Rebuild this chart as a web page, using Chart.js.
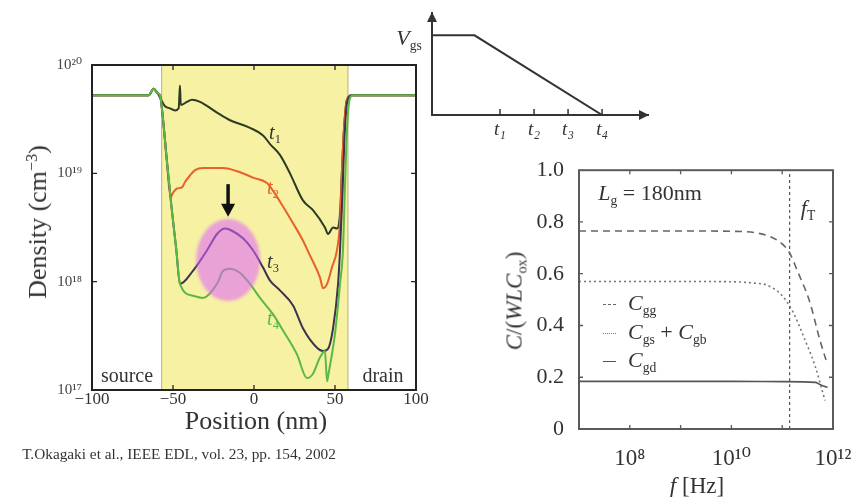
<!DOCTYPE html>
<html>
<head>
<meta charset="utf-8">
<script src="https://cdn.jsdelivr.net/npm/chart.js@4.4.1/dist/chart.umd.min.js"></script>
<style>
  body { margin: 0; width: 866px; height: 497px; background: #fff; position: relative; overflow: hidden;
         font-family: 'Liberation Serif', 'DejaVu Serif', serif; color: #333; }
  .panel { position: absolute; }
  .lbl { position: absolute; white-space: nowrap; line-height: 1; transform: translate(-50%, -50%); }
  .left { position: absolute; white-space: nowrap; line-height: 1; transform: translateY(-50%); }
  .rot { transform: translate(-50%, -50%) rotate(-90deg); }
  sub { font-size: 0.62em; vertical-align: -0.35em; line-height: 0; }
  sup { font-size: 0.62em; vertical-align: 0.55em; line-height: 0; }
  .smp { display: inline-block; width: 13px; margin-right: 12px; vertical-align: middle; border-top: 1.6px solid #555; }
</style>
</head>
<body>
<div class="panel" style="left:0;top:0"><canvas id="densChart" width="440" height="430"></canvas></div>
<div class="panel" style="left:380px;top:0"><canvas id="rampChart" width="290" height="145"></canvas></div>
<div class="panel" style="left:470px;top:150px"><canvas id="capChart" width="396" height="347"></canvas></div>

<!-- density panel text -->
<div class="lbl rot" style="left:38px;top:222px;font-size:26px">Density (cm<sup>−3</sup>)</div>
<div class="lbl" style="left:256px;top:421px;font-size:26px">Position (nm)</div>
<div class="lbl" style="left:179px;top:454px;font-size:15.3px">T.Okagaki et al., IEEE EDL, vol. 23, pp. 154, 2002</div>
<div class="lbl" style="left:127px;top:375px;font-size:20px">source</div>
<div class="lbl" style="left:383px;top:375px;font-size:20px">drain</div>
<div class="lbl" style="left:275px;top:132px;font-size:20px"><i>t</i><sub>1</sub></div>
<div class="lbl" style="left:273px;top:187px;font-size:20px;color:#e8602a"><i>t</i><sub>2</sub></div>
<div class="lbl" style="left:273px;top:261px;font-size:20px"><i>t</i><sub>3</sub></div>
<div class="lbl" style="left:273px;top:318px;font-size:20px;color:#5bb846"><i>t</i><sub>4</sub></div>

<!-- gate ramp text -->
<div class="lbl" style="left:409px;top:38px;font-size:22px"><i>V</i><sub>gs</sub></div>

<!-- capacitance panel text -->
<div class="lbl" style="left:650px;top:193px;font-size:22px"><i>L</i><sub>g</sub> = 180nm</div>
<div class="lbl" style="left:808px;top:208px;font-size:22px"><i>f</i><sub>T</sub></div>
<div class="lbl rot" style="left:514px;top:301px;font-size:23px"><i>C</i>/(<i>WLC</i><sub>ox</sub>)</div>
<div class="lbl" style="left:697px;top:485px;font-size:23px"><i>f</i> [Hz]</div>
<div class="left" style="left:603px;top:303px;font-size:22px"><span class="smp" style="border-top-style:dashed;border-color:#666"></span><i>C</i><sub>gg</sub></div>
<div class="left" style="left:603px;top:332px;font-size:22px"><span class="smp" style="border-top-style:dotted;border-color:#777"></span><i>C</i><sub>gs</sub> + <i>C</i><sub>gb</sub></div>
<div class="left" style="left:603px;top:360px;font-size:22px"><span class="smp"></span><i>C</i><sub>gd</sub></div>

<script>
var SERIF = "'Liberation Serif', 'DejaVu Serif', serif";

// carrier density along the channel, log10(cm^-3) vs position (nm)
var t1Pos = [-100, -65, -62, -59.5, -58, -55, -51.9, -48.8, -46.5, -45.7, -45.2, -41.4, -38.3, -33.3, -22.8, -14.8, -2.5, 5.6, 9.9, 16, 22.2, 30.2, 36.4, 43.8, 45.7, 48.8, 51.2, 53.1, 54.3, 55.5, 57.4, 60.5, 100];
var t1Log = [19.72, 19.72, 19.78, 19.74, 19.7, 19.62, 19.6, 19.58, 19.6, 19.81, 19.63, 19.66, 19.68, 19.66, 19.56, 19.49, 19.42, 19.35, 19.27, 19.17, 19.0, 18.75, 18.66, 18.5, 18.44, 18.5, 18.49, 18.63, 19.03, 19.4, 19.68, 19.72, 19.72];

var t2Pos = [-100, -65, -62, -59.5, -58, -56.5, -54, -51.5, -50, -47.5, -44.4, -42.6, -39.5, -36.4, -31.5, -19.1, -8.6, -0.6, 8, 11.7, 16, 24.1, 30.2, 34.6, 40.7, 42.6, 45.1, 48.1, 51.2, 53.1, 54.3, 55.5, 57.4, 60.5, 100];
var t2Log = [19.72, 19.72, 19.78, 19.74, 19.72, 19.55, 19.15, 18.78, 18.82, 18.86, 18.87, 18.92, 18.98, 19.03, 19.05, 19.05, 19.01, 18.96, 18.91, 18.84, 18.74, 18.54, 18.38, 18.24, 18.04, 17.94, 17.98, 18.13, 18.29, 18.55, 19.03, 19.4, 19.68, 19.72, 19.72];

var t3Pos = [-100, -65, -62, -59.5, -58, -56.5, -54, -51, -48, -45.7, -37.7, -29, -22.8, -17.9, -13.6, -6.8, -0.6, 5.6, 9.9, 16, 24.1, 30.2, 38.9, 42.6, 45.7, 48.8, 51.9, 53.1, 54.6, 55.8, 57.4, 60.5, 100];
var t3Log = [19.72, 19.72, 19.78, 19.74, 19.72, 19.55, 19.15, 18.7, 18.3, 17.98, 18.1, 18.29, 18.44, 18.49, 18.47, 18.4, 18.29, 18.13, 18.01, 17.92, 17.78, 17.57, 17.39, 17.36, 17.38, 17.57, 17.98, 18.29, 18.8, 19.3, 19.65, 19.72, 19.72];

var t4Pos = [-100, -65, -62, -59.5, -58, -56.5, -54, -51, -48, -45.7, -37.7, -31.5, -22.8, -19.1, -14.8, -8.6, -2.5, 3.7, 11.7, 17.9, 26.5, 32.7, 36.4, 40.7, 43.8, 45.1, 46, 50, 53.1, 54.9, 56.2, 57.4, 59, 61, 100];
var t4Log = [19.72, 19.72, 19.78, 19.74, 19.72, 19.55, 19.15, 18.7, 18.3, 17.98, 17.87, 17.85, 17.98, 18.1, 18.12, 18.08, 17.98, 17.85, 17.7, 17.55, 17.33, 17.11, 17.15, 17.3, 17.36, 17.08, 17.15, 17.52, 17.98, 18.29, 18.9, 19.4, 19.68, 19.72, 19.72];

var channelEdges = [-57, 58];
var densTicks = [1e17, 1e18, 1e19, 1e20];
var densMarks = [1e18, 1e19];
var posMarks = [-50, 0, 50];

// hump highlighted under the arrow
var humpPos = -16;
var humpLog = 18.2;
var arrowLog = [18.9, 18.6];

// gate voltage ramp
var rampT = [-1, 0.25, 4];
var rampV = [1, 1, 0];
var rampTicks = [1, 2, 3, 4];

// normalized capacitances vs frequency
var freqGG = [1e7, 1e9, 1e10, 3e10, 6e10, 1e11, 1.4e11, 2e11, 3.5e11, 5.5e11, 7.6e11];
var capGG = [0.765, 0.765, 0.764, 0.758, 0.742, 0.715, 0.68, 0.61, 0.49, 0.345, 0.255];
var freqGS = [1e7, 1e9, 1e10, 3e10, 5e10, 1e11, 1.6e11, 2.8e11, 4.5e11, 6.3e11, 7e11];
var capGS = [0.57, 0.57, 0.569, 0.563, 0.556, 0.515, 0.455, 0.345, 0.24, 0.14, 0.11];
var freqGD = [1e7, 1e10, 1e11, 4.5e11, 5.5e11, 7.8e11];
var capGD = [0.184, 0.184, 0.183, 0.18, 0.172, 0.16];
var fT = 1.4e11;
var freqLabels = [1e8, 1e10, 1e12];
var freqMarks = [1e8, 1e9, 1e10, 1e11];
var capMarks = [0.2, 0.4, 0.6, 0.8];

var SUP = { '0': '⁰', '1': '¹', '2': '²', '3': '³', '4': '⁴', '5': '⁵', '6': '⁶', '7': '⁷', '8': '⁸', '9': '⁹' };
function pow10Label(v) {
  var e = String(Math.round(Math.log10(v)));
  return '10' + e.split('').map(function (c) { return SUP[c]; }).join('');
}

function pairs(xs, ys, toY) {
  var out = [];
  for (var i = 0; i < xs.length; i++) out.push({ x: xs[i], y: toY ? toY(ys[i]) : ys[i] });
  return out;
}
function fromLog(v) { return Math.pow(10, v); }

// box round the plot area with short inward ticks on every side
function framePlugin(color, width, xMarks, yMarks, len) {
  return {
    id: 'frame',
    afterDraw: function (chart) {
      var a = chart.chartArea, ctx = chart.ctx, xs = chart.scales.x, ys = chart.scales.y;
      ctx.save();
      ctx.strokeStyle = color;
      ctx.lineWidth = width;
      ctx.strokeRect(a.left, a.top, a.right - a.left, a.bottom - a.top);
      ctx.lineWidth = 1.3;
      ctx.beginPath();
      xMarks.forEach(function (v) {
        var px = xs.getPixelForValue(v);
        ctx.moveTo(px, a.bottom); ctx.lineTo(px, a.bottom - len);
        ctx.moveTo(px, a.top); ctx.lineTo(px, a.top + len);
      });
      yMarks.forEach(function (v) {
        var py = ys.getPixelForValue(v);
        ctx.moveTo(a.left, py); ctx.lineTo(a.left + len, py);
        ctx.moveTo(a.right, py); ctx.lineTo(a.right - len, py);
      });
      ctx.stroke();
      ctx.restore();
    }
  };
}

var bandPlugin = {
  id: 'band',
  beforeDatasetsDraw: function (chart) {
    var a = chart.chartArea, ctx = chart.ctx, xs = chart.scales.x;
    var x0 = xs.getPixelForValue(channelEdges[0]), x1 = xs.getPixelForValue(channelEdges[1]);
    ctx.save();
    ctx.fillStyle = '#f6f1a3';
    ctx.fillRect(x0, a.top, x1 - x0, a.bottom - a.top);
    ctx.strokeStyle = '#b9b36a';
    ctx.lineWidth = 1;
    ctx.beginPath();
    ctx.moveTo(x0, a.top); ctx.lineTo(x0, a.bottom);
    ctx.moveTo(x1, a.top); ctx.lineTo(x1, a.bottom);
    ctx.stroke();
    ctx.restore();
  }
};

var humpPlugin = {
  id: 'hump',
  afterDatasetsDraw: function (chart) {
    var ctx = chart.ctx, xs = chart.scales.x, ys = chart.scales.y;
    var cx = xs.getPixelForValue(humpPos), cy = ys.getPixelForValue(fromLog(humpLog));
    ctx.save();
    ctx.filter = 'blur(1.5px)';
    ctx.fillStyle = 'rgba(224, 95, 255, 0.55)';
    ctx.beginPath();
    ctx.ellipse(cx, cy, 32, 41, 0, 0, Math.PI * 2);
    ctx.fill();
    ctx.filter = 'none';
    var y0 = ys.getPixelForValue(fromLog(arrowLog[0])), y1 = ys.getPixelForValue(fromLog(arrowLog[1]));
    ctx.strokeStyle = '#111';
    ctx.fillStyle = '#111';
    ctx.lineWidth = 3.5;
    ctx.beginPath();
    ctx.moveTo(cx, y0); ctx.lineTo(cx, y1 - 10);
    ctx.stroke();
    ctx.beginPath();
    ctx.moveTo(cx - 7, y1 - 13); ctx.lineTo(cx + 7, y1 - 13); ctx.lineTo(cx, y1);
    ctx.closePath();
    ctx.fill();
    ctx.restore();
  }
};

new Chart(document.getElementById('densChart'), {
  type: 'line',
  data: {
    datasets: [
      { label: 't1', data: pairs(t1Pos, t1Log, fromLog), borderColor: '#2d3a25', order: 3 },
      { label: 't2', data: pairs(t2Pos, t2Log, fromLog), borderColor: '#e8602a', order: 2 },
      { label: 't3', data: pairs(t3Pos, t3Log, fromLog), borderColor: '#3b3350', order: 1 },
      { label: 't4', data: pairs(t4Pos, t4Log, fromLog), borderColor: '#5bb846', order: 0 }
    ]
  },
  options: {
    responsive: false,
    animation: false,
    elements: { point: { radius: 0 }, line: { borderWidth: 2, cubicInterpolationMode: 'monotone' } },
    layout: { padding: { top: 65, right: 24, left: 0, bottom: 0 } },
    plugins: { legend: { display: false }, tooltip: { enabled: false } },
    scales: {
      x: {
        type: 'linear', min: -100, max: 100,
        grid: { display: false }, border: { display: false },
        ticks: {
          stepSize: 50, padding: -9, color: '#333', maxRotation: 0,
          font: { family: SERIF, size: 17 },
          callback: function (v) { return v < 0 ? '−' + Math.abs(v) : String(v); }
        },
        afterFit: function (s) { s.height = 40; }
      },
      y: {
        type: 'logarithmic', min: 1e17, max: 1e20,
        grid: { display: false }, border: { display: false },
        afterBuildTicks: function (s) { s.ticks = densTicks.map(function (v) { return { value: v }; }); },
        ticks: { padding: 2, color: '#444', font: { family: SERIF, size: 15 }, callback: function (v) { return pow10Label(v); } },
        afterFit: function (s) { s.width = 92; }
      }
    }
  },
  plugins: [bandPlugin, humpPlugin, framePlugin('#222', 2, posMarks, densMarks, 5)]
});

// gate ramp sketch: arrow-headed axes and tick marks at t1..t4
var rampAxesPlugin = {
  id: 'rampAxes',
  afterDraw: function (chart) {
    var a = chart.chartArea, ctx = chart.ctx, xs = chart.scales.x;
    ctx.save();
    ctx.fillStyle = '#333';
    ctx.strokeStyle = '#333';
    ctx.beginPath();
    ctx.moveTo(a.left - 5, a.top + 9); ctx.lineTo(a.left, a.top - 1); ctx.lineTo(a.left + 5, a.top + 9);
    ctx.closePath(); ctx.fill();
    ctx.beginPath();
    ctx.moveTo(a.right - 9, a.bottom - 5); ctx.lineTo(a.right + 1, a.bottom); ctx.lineTo(a.right - 9, a.bottom + 5);
    ctx.closePath(); ctx.fill();
    ctx.lineWidth = 1.5;
    ctx.beginPath();
    rampTicks.forEach(function (v) {
      var px = xs.getPixelForValue(v);
      ctx.moveTo(px, a.bottom); ctx.lineTo(px, a.bottom - 6);
    });
    ctx.stroke();
    ctx.restore();
  }
};

new Chart(document.getElementById('rampChart'), {
  type: 'line',
  data: { datasets: [{ data: pairs(rampT, rampV), borderColor: '#333', borderWidth: 2, tension: 0 }] },
  options: {
    responsive: false,
    animation: false,
    elements: { point: { radius: 0 } },
    layout: { padding: { top: 13, right: 22, left: 0, bottom: 0 } },
    plugins: { legend: { display: false }, tooltip: { enabled: false } },
    scales: {
      x: {
        type: 'linear', min: -1, max: 5.35,
        grid: { display: false }, border: { display: true, color: '#333', width: 2 },
        afterBuildTicks: function (s) { s.ticks = rampTicks.map(function (v) { return { value: v }; }); },
        ticks: {
          padding: -4, color: '#333', maxRotation: 0,
          font: { family: SERIF, size: 19, style: 'italic' },
          callback: function (v) { return 't' + '₀₁₂₃₄'.charAt(v); }
        },
        afterFit: function (s) { s.height = 30; }
      },
      y: {
        type: 'linear', min: 0, max: 1.28,
        grid: { display: false }, border: { display: true, color: '#333', width: 2 },
        ticks: { display: false },
        afterFit: function (s) { s.width = 52; }
      }
    }
  },
  plugins: [rampAxesPlugin]
});

new Chart(document.getElementById('capChart'), {
  type: 'line',
  data: {
    datasets: [
      { label: 'Cgg', data: pairs(freqGG, capGG), borderColor: '#666', borderDash: [7, 5] },
      { label: 'Cgs + Cgb', data: pairs(freqGS, capGS), borderColor: '#777', borderDash: [2, 3] },
      { label: 'Cgd', data: pairs(freqGD, capGD), borderColor: '#555' },
      { label: 'fT', data: [{ x: fT, y: 0 }, { x: fT, y: 1 }], borderColor: '#555', borderWidth: 1.2, borderDash: [3, 3] }
    ]
  },
  options: {
    responsive: false,
    animation: false,
    elements: { point: { radius: 0 }, line: { borderWidth: 1.6, cubicInterpolationMode: 'monotone' } },
    layout: { padding: { top: 19, right: 33, left: 0, bottom: 0 } },
    plugins: { legend: { display: false }, tooltip: { enabled: false } },
    scales: {
      x: {
        type: 'logarithmic', min: 1e7, max: 1e12,
        grid: { display: false }, border: { display: false },
        afterBuildTicks: function (s) { s.ticks = freqLabels.map(function (v) { return { value: v }; }); },
        ticks: {
          padding: 8, color: '#333', maxRotation: 0, autoSkip: false,
          font: { family: SERIF, size: 23 },
          callback: function (v) { return pow10Label(v); }
        },
        afterFit: function (s) { s.height = 68; }
      },
      y: {
        type: 'linear', min: 0, max: 1,
        grid: { display: false }, border: { display: false },
        ticks: {
          stepSize: 0.2, padding: 7, color: '#333',
          font: { family: SERIF, size: 22 },
          callback: function (v) { return v === 0 ? '0' : v.toFixed(1); }
        },
        afterFit: function (s) { s.width = 109; }
      }
    }
  },
  plugins: [framePlugin('#5a5a5a', 2, freqMarks, capMarks, 4)]
});
</script>
</body>
</html>
